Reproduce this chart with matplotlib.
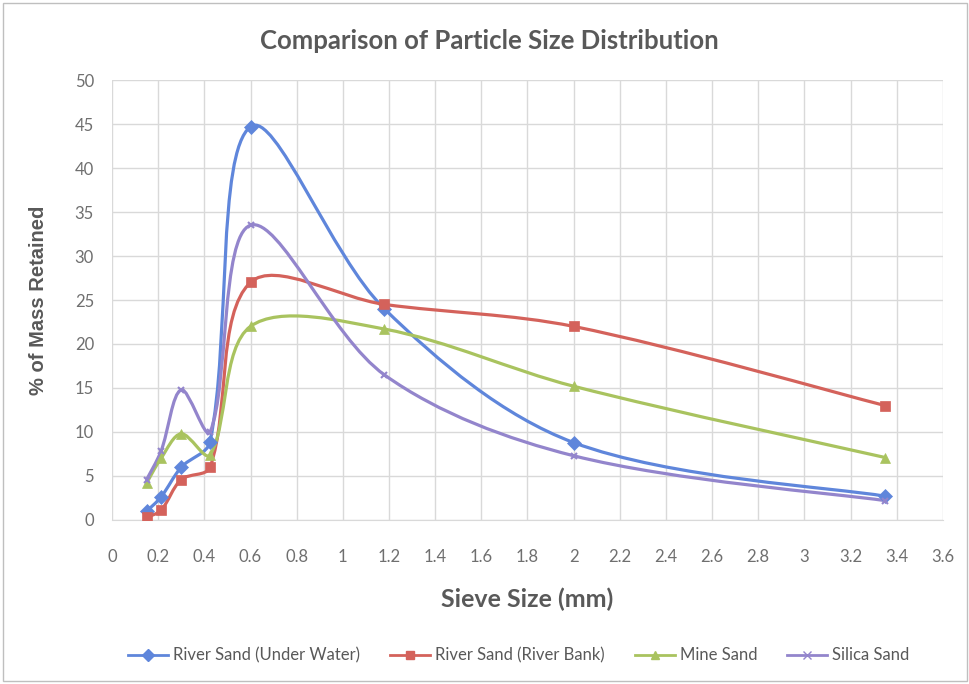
import matplotlib

matplotlib.use("Agg")
import matplotlib.pyplot as plt
import numpy as np
from matplotlib.lines import Line2D
from matplotlib.patches import PathPatch, Rectangle
from matplotlib.path import Path

# sieve sizes (mm)
sieve_mm = [0.15, 0.212, 0.3, 0.425, 0.6, 1.18, 2.0, 3.35]

# % of mass retained on each sieve
river_under_water = [1.0, 2.6, 6.0, 8.9, 44.7, 24.0, 8.8, 2.7]
river_bank = [0.3, 1.1, 4.6, 6.0, 27.0, 24.5, 22.0, 13.0]
mine_sand = [4.2, 7.0, 9.8, 7.4, 22.0, 21.7, 15.2, 7.1]
silica_sand = [4.6, 7.8, 14.8, 10.0, 33.5, 16.5, 7.3, 2.2]

series_names = ["River Sand (Under Water)", "River Sand (River Bank)", "Mine Sand", "Silica Sand"]
series_colors = ["#5F86DB", "#D4625B", "#A9C35F", "#9385CC"]
series_markers = ["D", "s", "^", "x"]

plt.rcParams["font.family"] = ["Lato", "DejaVu Sans"]
TEXT_GREY = "#595959"
TICK_GREY = "#6f6f6f"


def smooth_path(ax, xs, ys, tension=1 / 3):
    """Excel-style smoothed line, built in screen space: bezier arms scaled by
    the lengths of the neighbouring segments, so short hops don't overshoot."""
    to_px = ax.transData
    pts = to_px.transform(np.column_stack([xs, ys]))
    n = len(pts)
    verts = [pts[0]]
    codes = [Path.MOVETO]
    for i in range(n - 1):
        p1, p2 = pts[i], pts[i + 1]
        # outgoing arm at p1
        if i > 0:
            p0 = pts[i - 1]
            d01 = np.hypot(*(p1 - p0))
            d12 = np.hypot(*(p2 - p1))
            c1 = p1 + tension * d12 / (d01 + d12) * (p2 - p0)
        else:
            c1 = p1 + tension / 2 * (p2 - p1)
        # incoming arm at p2
        if i + 2 < n:
            p3 = pts[i + 2]
            d12 = np.hypot(*(p2 - p1))
            d23 = np.hypot(*(p3 - p2))
            c2 = p2 - tension * d12 / (d12 + d23) * (p3 - p1)
        else:
            c2 = p2 - tension / 2 * (p2 - p1)
        verts += [c1, c2, p2]
        codes += [Path.CURVE4] * 3
    data_verts = to_px.inverted().transform(np.array(verts))
    return Path(data_verts, codes)


fig = plt.figure(figsize=(9.7, 6.84), dpi=100)
ax = fig.add_axes([0.1155, 0.2398, 0.8565, 0.6432])
ax.set_xlim(0, 3.6)
ax.set_ylim(0, 50)

all_series = [river_under_water, river_bank, mine_sand, silica_sand]
handles = []
for vals, name, color, marker in zip(all_series, series_names, series_colors, series_markers):
    patch = PathPatch(smooth_path(ax, sieve_mm, vals), facecolor="none", edgecolor=color,
                      linewidth=2.3, zorder=3)
    ax.add_patch(patch)
    ms = 7 if marker != "x" else 5
    ax.plot(sieve_mm, vals, linestyle="none", marker=marker, markersize=ms, color=color,
            markeredgewidth=1.5 if marker == "x" else 0.5, zorder=4)
    handles.append(Line2D([], [], color=color, linewidth=2, marker=marker, markersize=6,
                          label=name))

ax.set_xticks([i * 0.2 for i in range(19)])
ax.set_xticklabels(["0", "0.2", "0.4", "0.6", "0.8", "1", "1.2", "1.4", "1.6", "1.8",
                    "2", "2.2", "2.4", "2.6", "2.8", "3", "3.2", "3.4", "3.6"])
ax.set_yticks(range(0, 51, 5))
ax.grid(True, color="#D9D9D9", linewidth=1)
ax.set_axisbelow(True)
for side in ["top", "right", "left"]:
    ax.spines[side].set_visible(False)
ax.spines["bottom"].set_color("#D9D9D9")
ax.tick_params(length=0, labelsize=12, labelcolor=TICK_GREY)
ax.tick_params(axis="x", pad=21)
ax.tick_params(axis="y", pad=13)

ax.set_xlabel("Sieve Size (mm)", fontsize=18, fontweight="bold", color=TEXT_GREY, labelpad=16)
ax.set_ylabel("% of Mass Retained", fontsize=14.5, fontweight="bold", color=TEXT_GREY,
              family=["Liberation Sans", "DejaVu Sans"], labelpad=19)
fig.text(0.505, 0.940, "Comparison of Particle Size Distribution", ha="center", va="center",
         fontsize=18.5, fontweight="bold", color=TEXT_GREY)

fig.legend(handles=handles, loc="center", bbox_to_anchor=(0.535, 0.042), ncol=4, frameon=False,
           fontsize=12, labelcolor=TEXT_GREY, handlelength=2.4, columnspacing=1.8,
           handletextpad=0.3)

fig.patches.append(Rectangle((0.003, 0.004), 0.994, 0.992, transform=fig.transFigure,
                             fill=False, edgecolor="#BFBFBF", linewidth=1))

fig.savefig("out.png", dpi=100)
